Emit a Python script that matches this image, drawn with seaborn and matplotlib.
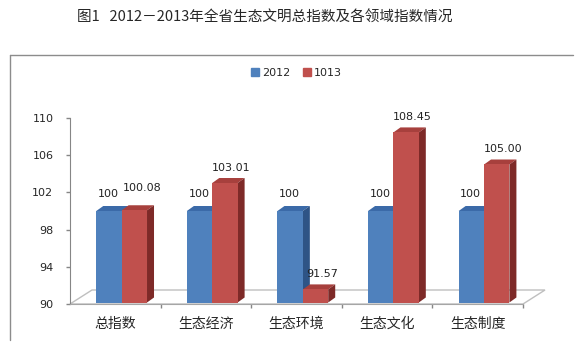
import numpy as np
import pandas as pd
import seaborn as sns
import matplotlib.pyplot as plt
from matplotlib.patches import Polygon
from matplotlib.lines import Line2D

#Data
categories = ["总指数", "生态经济", "生态环境", "生态文化", "生态制度"]
series_names = ["2012", "1013"]
values_2012 = [100, 100, 100, 100, 100]
values_2013 = [100.08, 103.01, 91.57, 108.45, 105.00]
labels_2012 = ["100", "100", "100", "100", "100"]
labels_2013 = ["100.08", "103.01", "91.57", "108.45", "105.00"]
yticks = [90, 94, 98, 102, 106, 110]

df = pd.DataFrame({
    "cat": categories * 2,
    "year": [series_names[0]] * 5 + [series_names[1]] * 5,
    "value": values_2012 + values_2013,
})

sns.set_style("white")
plt.rcParams['font.family'] = ['Noto Sans CJK SC', 'DejaVu Sans']
num_font = ['DejaVu Sans']

front = {"2012": "#4F81BD", "1013": "#C0504D"}
top_c = {"2012": "#3B6AA8", "1013": "#A7403D"}
side_c = {"2012": "#2E5486", "1013": "#7E2A28"}

fig = plt.figure(figsize=(5.85, 3.55), dpi=100)
ax = fig.add_axes([70 / 585, 1 - 304 / 355, 453 / 585, 186 / 355])

sns.barplot(data=df, x="cat", y="value", hue="year", palette=front, width=0.56,
            ax=ax, legend=False, saturation=1, zorder=3)

ax.set_ylim(90, 110)
ax.set_xlim(-0.5, 4.5)

#pixel -> data units for the fake 3D depth
px_x = 5 / 453
px_y = 20 / 186
dx, dy = 7 * px_x, 5 * px_y

#Bars drawn by seaborn: blue first, red second
bars = ax.patches[:10]
for i, p in enumerate(bars):
    year = series_names[i // 5]
    k = i % 5
    p.set_x(p.get_x() + 0.07)
    p.set_y(90 + 1.5 * px_y)
    p.set_height(p.get_height() - 90 - 1.5 * px_y)
    p.set_edgecolor("none")
    x0, w = p.get_x(), p.get_width()
    y0, y1 = p.get_y(), p.get_y() + p.get_height()
    z = 3 if year == "2012" else 4
    p.set_zorder(z + 0.5)
    top = Polygon([(x0, y1), (x0 + dx, y1 + dy), (x0 + w + dx, y1 + dy), (x0 + w, y1)],
                  closed=True, facecolor=top_c[year], edgecolor="none", zorder=z, clip_on=False)
    side = Polygon([(x0 + w, y0), (x0 + w + dx, y0 + dy), (x0 + w + dx, y1 + dy), (x0 + w, y1)],
                   closed=True, facecolor=side_c[year], edgecolor="none", zorder=z, clip_on=False)
    ax.add_patch(top)
    ax.add_patch(side)
    if year == "2012":
        lab, val, off = labels_2012[k], values_2012[k], (-3, 12)
    else:
        lab, val, off = labels_2013[k], values_2013[k], (2, 11)
        # first pair sits at the same height, lift the red label clear of the blue one
        if abs(val - values_2012[k]) < 0.5:
            off = (3, 16)
    ax.annotate(lab, (x0 + w / 2 + dx / 2, val), xytext=off, textcoords="offset points",
                ha="center", va="center", fontsize=8, color="#222222", zorder=6,
                family=num_font, annotation_clip=False)

#Floor
fx, fy = 22 * px_x, 14 * px_y
floor = Polygon([(-0.5, 90), (-0.5 + fx, 90 + fy), (4.5 + fx, 90 + fy), (4.5, 90)],
                closed=True, facecolor="none", edgecolor="#BFBFBF", lw=1, zorder=1, clip_on=False)
ax.add_patch(floor)

#Axes styling
for s in ["top", "right"]:
    ax.spines[s].set_visible(False)
ax.spines["left"].set_color("#868686")
ax.spines["bottom"].set_color("#A6A6A6")
ax.set_yticks(yticks)
ax.set_yticklabels([str(t) for t in yticks], family=num_font)
ax.tick_params(axis="y", left=True, length=3, width=1, color="#868686", labelsize=8, pad=9)
ax.set_xticks(range(5))
ax.set_xticklabels(categories)
ax.set_xticks(np.arange(0.5, 5, 1), minor=True)
ax.tick_params(axis="x", which="major", bottom=False, labelsize=10, pad=6)
ax.tick_params(axis="x", which="minor", bottom=True, length=3, width=1, color="#868686")
ax.set_xlabel("")
ax.set_ylabel("")

#Legend
handles = [Line2D([], [], marker="s", ls="", markersize=5.5, color=front[n]) for n in series_names]
fig.legend(handles, series_names, loc="center", bbox_to_anchor=(295 / 585, 1 - 73 / 355),
           ncol=2, frameon=False, prop={"family": num_font, "size": 8},
           handletextpad=0.0, columnspacing=0.9, handlelength=1.2)

#Chart border
fig.add_artist(Line2D([10 / 585, 10 / 585], [1 - 340 / 355, 1 - 55 / 355], color="#8C8C8C", lw=1))
fig.add_artist(Line2D([10 / 585, 573 / 585], [1 - 55 / 355, 1 - 55 / 355], color="#8C8C8C", lw=1))

fig.text(265 / 585, 1 - 18 / 355, "图1   2012－2013年全省生态文明总指数及各领域指数情况",
         ha="center", va="center", fontsize=10.5)

fig.savefig("out.png", dpi=100)
